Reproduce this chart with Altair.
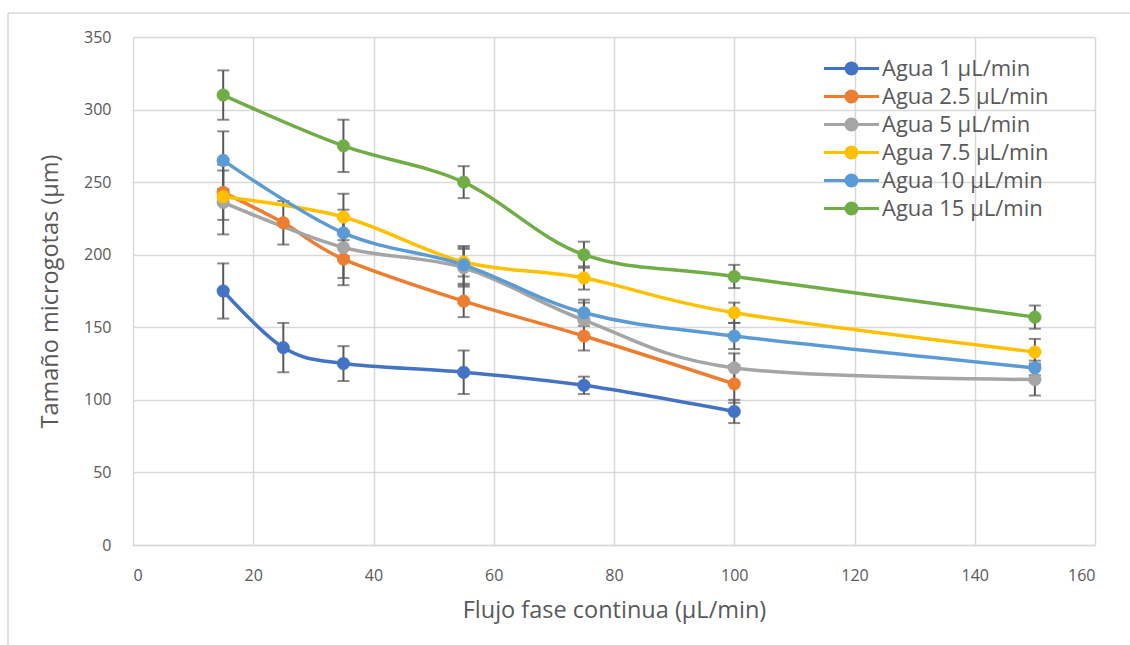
import altair as alt
import pandas as pd

series = ["Agua 1 µL/min", "Agua 2.5 µL/min", "Agua 5 µL/min",
          "Agua 7.5 µL/min", "Agua 10 µL/min", "Agua 15 µL/min"]
colors = ["#4472C4", "#ED7D31", "#A5A5A5", "#FFC000", "#5B9BD5", "#70AD47"]

x_1 = [15, 25, 35, 55, 75, 100]
y_1 = [175, 136, 125, 119, 110, 92]
e_1 = [19, 17, 12, 15, 6, 8]

x_25 = [15, 25, 35, 55, 75, 100]
y_25 = [243, 222, 197, 168, 144, 111]
e_25 = [19, 15, 18, 11, 10, 13]

x_5 = [15, 35, 55, 75, 100, 150]
y_5 = [236, 205, 191, 155, 122, 114]
e_5 = [22, 21, 13, 12, 10, 11]

x_75 = [15, 35, 55, 75, 100, 150]
y_75 = [240, 226, 195, 184, 160, 133]
e_75 = [5, 16, 10, 8, 7, 9]

x_10 = [15, 35, 55, 75, 100, 150]
y_10 = [265, 215, 193, 160, 144, 122]
e_10 = [20, 16, 13, 9, 9, 5]

x_15 = [15, 35, 55, 75, 100, 150]
y_15 = [310, 275, 250, 200, 185, 157]
e_15 = [17, 18, 11, 9, 8, 8]

x_ticks = [0, 20, 40, 60, 80, 100, 120, 140, 160]
y_ticks = [0, 50, 100, 150, 200, 250, 300, 350]

rows = []
for name, xs, ys, es in zip(series,
                            [x_1, x_25, x_5, x_75, x_10, x_15],
                            [y_1, y_25, y_5, y_75, y_10, y_15],
                            [e_1, e_25, e_5, e_75, e_10, e_15]):
    for i, (xv, yv, ev) in enumerate(zip(xs, ys, es)):
        rows.append({"serie": name, "flujo": xv, "tam": yv,
                     "lo": yv - ev, "hi": yv + ev, "orden": i})
df = pd.DataFrame(rows)

FONT = "Open Sans"
GRAY = "#595959"

xscale = alt.Scale(domain=[0, 160], nice=False, zero=True)
yscale = alt.Scale(domain=[0, 350], nice=False)
# line + dot legend glyph (unit box scaled by sqrt(symbolSize)/2 = 10 px)
legend_path = "M-2.75,0L2.75,0M0.55,0A0.55,0.55,0,1,1,-0.55,0A0.55,0.55,0,1,1,0.55,0Z"
leg = alt.Legend(title=None, orient="none", legendX=707, legendY=20,
                 symbolType=legend_path, symbolSize=400, symbolStrokeWidth=3,
                 labelFont=FONT, labelFontSize=22, labelColor=GRAY, labelLimit=400,
                 labelOffset=19, rowPadding=5, padding=0)
cscale = alt.Scale(domain=series, range=colors)

x_enc = alt.X("flujo:Q", scale=xscale,
              axis=alt.Axis(values=x_ticks, title="Flujo fase continua (µL/min)"))
y_lo_enc = alt.Y("lo:Q", scale=yscale,
                 axis=alt.Axis(values=y_ticks, title="Tamaño microgotas (µm)"))

base = alt.Chart(df)

err = base.mark_rule(color=GRAY, strokeWidth=2).encode(
    x=x_enc, y=y_lo_enc, y2="hi:Q", detail="serie:N")
cap_lo = base.mark_tick(color=GRAY, thickness=2, size=12, orient="horizontal").encode(
    x="flujo:Q", y="lo:Q")
cap_hi = base.mark_tick(color=GRAY, thickness=2, size=12, orient="horizontal").encode(
    x="flujo:Q", y="hi:Q")

lines = base.mark_line(strokeWidth=3.5, interpolate="cardinal").encode(
    x="flujo:Q", y="tam:Q",
    stroke=alt.Stroke("serie:N", scale=cscale, legend=leg, sort=series),
    order="orden:Q")

points = base.mark_point(filled=True, size=160, opacity=1, strokeWidth=0.5).encode(
    x="flujo:Q", y="tam:Q",
    fill=alt.Fill("serie:N", scale=cscale, legend=leg, sort=series),
    stroke=alt.Stroke("serie:N", scale=cscale, legend=leg, sort=series))

frame_df = pd.DataFrame({"k": [0]})
frame_top = alt.Chart(frame_df).mark_rule(color="#d9d9d9", strokeWidth=1.5).encode(
    x=alt.value(-125), x2=alt.value(1100), y=alt.value(-24))
frame_left = alt.Chart(frame_df).mark_rule(color="#d9d9d9", strokeWidth=1.5).encode(
    x=alt.value(-125), y=alt.value(-24), y2=alt.value(700))

chart = alt.layer(frame_top, frame_left, err, cap_lo, cap_hi, lines, points).properties(
    width=962, height=508,
    autosize=alt.AutoSizeParams(type="none"),
    padding={"left": 133, "top": 37, "right": 35, "bottom": 100},
    background="white",
).configure_axis(
    labelFont=FONT, labelFontSize=16, labelColor=GRAY,
    titleFont=FONT, titleFontSize=23.5, titleColor=GRAY, titleFontWeight="normal",
    gridColor="#d9d9d9", gridWidth=1.5, ticks=False, domain=False,
).configure_axisX(
    labelPadding=22, titlePadding=15, domain=True, domainColor="#d9d9d9", domainWidth=1.5,
).configure_axisY(
    labelPadding=22, titlePadding=21,
).configure_view(stroke=None)

chart.save("out.html", embed_options={"renderer": "svg", "actions": False})
